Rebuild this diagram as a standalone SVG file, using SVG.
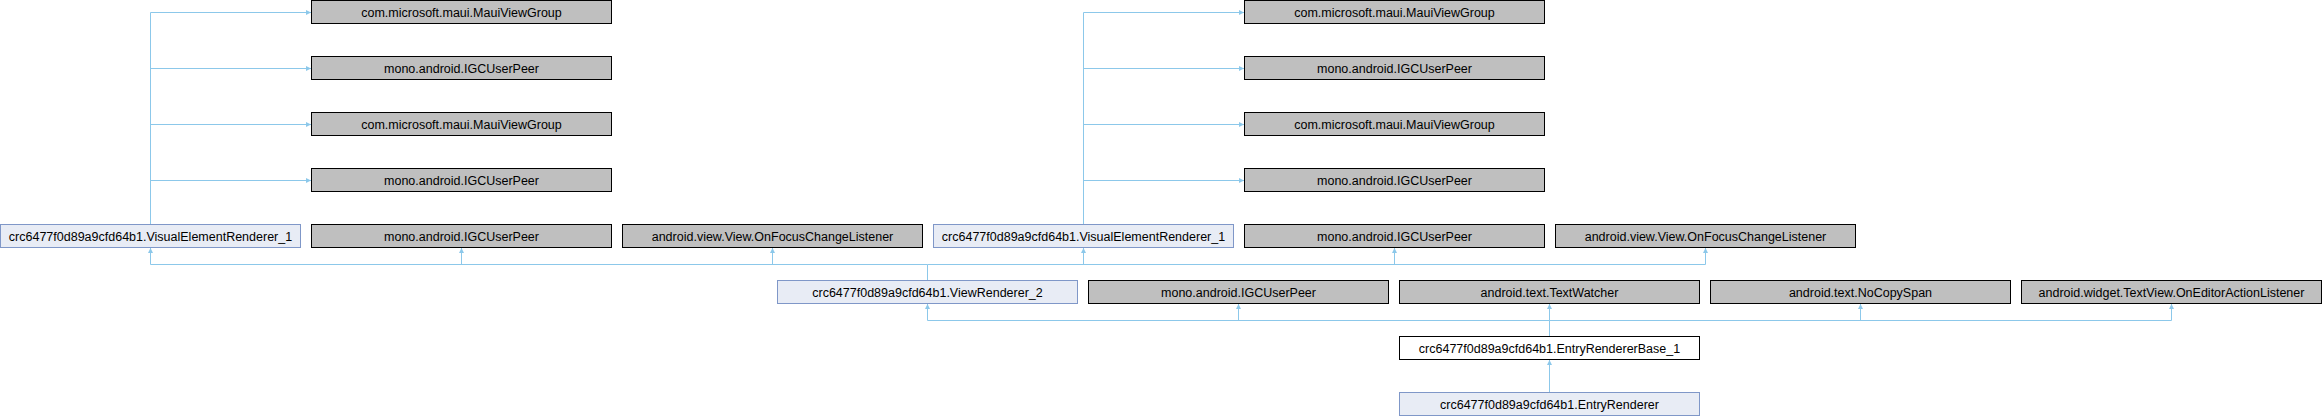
<svg xmlns="http://www.w3.org/2000/svg" width="2322" height="416" viewBox="0 0 2322 416">
<style>
.box rect{stroke-width:1}
.g rect{fill:#bfbfbf;stroke:#000000}
.b rect{fill:#e8ecf5;stroke:#7f97c8}
.w rect{fill:#ffffff;stroke:#000000}
text{font-family:"Liberation Sans",Arial,sans-serif;font-size:12.5px;fill:#000;text-anchor:middle}
.e path{fill:none;stroke:#8cc8ea;stroke-width:1}
</style>
<defs>
<marker id="ah" markerUnits="userSpaceOnUse" markerWidth="8" markerHeight="8" refX="5" refY="2.5" orient="auto">
<path d="M0,0 L5,2.5 L0,5 z" fill="#8cc8ea"/>
</marker>
</defs>
<g class="e" id="connectors">
<path d="M150.5,224.5 V12.5 H311" marker-end="url(#ah)"/>
<path d="M150.5,68.5 H311" marker-end="url(#ah)"/>
<path d="M150.5,124.5 H311" marker-end="url(#ah)"/>
<path d="M150.5,180.5 H311" marker-end="url(#ah)"/>
<path d="M1083.5,224.5 V12.5 H1244" marker-end="url(#ah)"/>
<path d="M1083.5,68.5 H1244" marker-end="url(#ah)"/>
<path d="M1083.5,124.5 H1244" marker-end="url(#ah)"/>
<path d="M1083.5,180.5 H1244" marker-end="url(#ah)"/>
<path d="M927.5,280.5 V264.5 H150.5 V248" marker-end="url(#ah)"/>
<path d="M461.5,264.5 V248" marker-end="url(#ah)"/>
<path d="M772.5,264.5 V248" marker-end="url(#ah)"/>
<path d="M927.5,264.5 H1705.5 V248" marker-end="url(#ah)"/>
<path d="M1083.5,264.5 V248" marker-end="url(#ah)"/>
<path d="M1394.5,264.5 V248" marker-end="url(#ah)"/>
<path d="M1549.5,336.5 V320.5 H927.5 V304" marker-end="url(#ah)"/>
<path d="M1238.5,320.5 V304" marker-end="url(#ah)"/>
<path d="M1549.5,320.5 V304" marker-end="url(#ah)"/>
<path d="M1549.5,320.5 H2171.5 V304" marker-end="url(#ah)"/>
<path d="M1860.5,320.5 V304" marker-end="url(#ah)"/>
<path d="M1549.5,392.5 V360" marker-end="url(#ah)"/>
</g>
<g id="n_ver1" class="box b"><rect x="0.5" y="224.5" width="300" height="23"/><text x="150.5" y="240.5">crc6477f0d89a9cfd64b1.VisualElementRenderer_1</text></g>
<g id="n_l1" class="box g"><rect x="311.5" y="0.5" width="300" height="23"/><text x="461.5" y="16.5">com.microsoft.maui.MauiViewGroup</text></g>
<g id="n_l2" class="box g"><rect x="311.5" y="56.5" width="300" height="23"/><text x="461.5" y="72.5">mono.android.IGCUserPeer</text></g>
<g id="n_l3" class="box g"><rect x="311.5" y="112.5" width="300" height="23"/><text x="461.5" y="128.5">com.microsoft.maui.MauiViewGroup</text></g>
<g id="n_l4" class="box g"><rect x="311.5" y="168.5" width="300" height="23"/><text x="461.5" y="184.5">mono.android.IGCUserPeer</text></g>
<g id="n_r5a" class="box g"><rect x="311.5" y="224.5" width="300" height="23"/><text x="461.5" y="240.5">mono.android.IGCUserPeer</text></g>
<g id="n_r5b" class="box g"><rect x="622.5" y="224.5" width="300" height="23"/><text x="772.5" y="240.5">android.view.View.OnFocusChangeListener</text></g>
<g id="n_ver2" class="box b"><rect x="933.5" y="224.5" width="300" height="23"/><text x="1083.5" y="240.5">crc6477f0d89a9cfd64b1.VisualElementRenderer_1</text></g>
<g id="n_r5d" class="box g"><rect x="1244.5" y="224.5" width="300" height="23"/><text x="1394.5" y="240.5">mono.android.IGCUserPeer</text></g>
<g id="n_r5e" class="box g"><rect x="1555.5" y="224.5" width="300" height="23"/><text x="1705.5" y="240.5">android.view.View.OnFocusChangeListener</text></g>
<g id="n_rr1" class="box g"><rect x="1244.5" y="0.5" width="300" height="23"/><text x="1394.5" y="16.5">com.microsoft.maui.MauiViewGroup</text></g>
<g id="n_rr2" class="box g"><rect x="1244.5" y="56.5" width="300" height="23"/><text x="1394.5" y="72.5">mono.android.IGCUserPeer</text></g>
<g id="n_rr3" class="box g"><rect x="1244.5" y="112.5" width="300" height="23"/><text x="1394.5" y="128.5">com.microsoft.maui.MauiViewGroup</text></g>
<g id="n_rr4" class="box g"><rect x="1244.5" y="168.5" width="300" height="23"/><text x="1394.5" y="184.5">mono.android.IGCUserPeer</text></g>
<g id="n_vr2" class="box b"><rect x="777.5" y="280.5" width="300" height="23"/><text x="927.5" y="296.5">crc6477f0d89a9cfd64b1.ViewRenderer_2</text></g>
<g id="n_r6b" class="box g"><rect x="1088.5" y="280.5" width="300" height="23"/><text x="1238.5" y="296.5">mono.android.IGCUserPeer</text></g>
<g id="n_r6c" class="box g"><rect x="1399.5" y="280.5" width="300" height="23"/><text x="1549.5" y="296.5">android.text.TextWatcher</text></g>
<g id="n_r6d" class="box g"><rect x="1710.5" y="280.5" width="300" height="23"/><text x="1860.5" y="296.5">android.text.NoCopySpan</text></g>
<g id="n_r6e" class="box g"><rect x="2021.5" y="280.5" width="300" height="23"/><text x="2171.5" y="296.5">android.widget.TextView.OnEditorActionListener</text></g>
<g id="n_erb" class="box w"><rect x="1399.5" y="336.5" width="300" height="23"/><text x="1549.5" y="352.5">crc6477f0d89a9cfd64b1.EntryRendererBase_1</text></g>
<g id="n_er" class="box b"><rect x="1399.5" y="392.5" width="300" height="23"/><text x="1549.5" y="408.5">crc6477f0d89a9cfd64b1.EntryRenderer</text></g>
</svg>
